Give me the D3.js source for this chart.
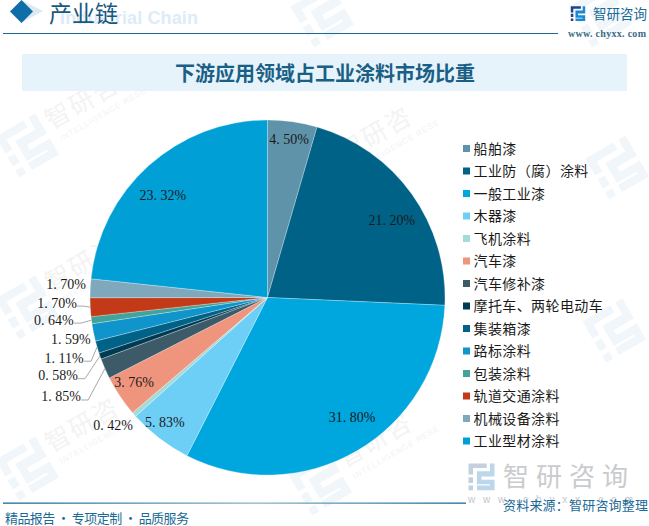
<!DOCTYPE html>
<html><head><meta charset="utf-8">
<script src="https://cdn.jsdelivr.net/npm/d3@7/dist/d3.min.js"></script>
<style>html,body{margin:0;padding:0;background:#fff}svg{display:block;font-family:"Noto Sans CJK SC","Noto Sans",sans-serif}</style></head>
<body><div id="c"></div>
<script>
const categories=["船舶漆","工业防（腐）涂料","一般工业漆","木器漆","飞机涂料","汽车漆","汽车修补漆","摩托车、两轮电动车","集装箱漆","路标涂料","包装涂料","轨道交通涂料","机械设备涂料","工业型材涂料"];
const values=[4.50,21.20,31.80,5.83,0.42,3.76,1.85,0.58,1.11,1.59,0.64,1.70,1.70,23.32];
const colors=["#5f93a9","#006287","#00a6de","#6dcff6","#a3dbd8","#f0957d","#3c5a68","#003b54","#006287","#0f94cc","#42a39a","#c23a17","#7fa8bd","#00a0d6"];
// label placement: radius factor, angle shift (deg) from slice middle, and whether a leader line is drawn
const labelRadius=[.896,.823,.829,.909,1.132,.893,1.291,1.26,1.196,1.133,1.21,1.186,1.138,.825];
const labelShift=[-.3,4,-4.8,2,1.5,1.1,-2.1,-1.2,-.4,-.8,1.3,1.6,.8,-3.6];
const labelLeader=[0,0,0,0,0,0,1,1,1,0,1,1,0,0];
const wmSpots=[[27,145],[27,307],[27,468],[320,177],[320,330],[320,483]];
const wmLogoOnly=[[322,15],[617,167],[614,330],[600,15]];

const W=649,H=526,cx=267.5,cy=297.5,R=177.5;
const svg=d3.select("#c").append("svg").attr("width",W).attr("height",H);
const defs=svg.append("defs");
const g1=defs.append("linearGradient").attr("id","fl");
g1.append("stop").attr("offset",0).attr("stop-color","#1a6a96");
g1.append("stop").attr("offset",.55).attr("stop-color","#8fb4c9");
g1.append("stop").attr("offset",1).attr("stop-color","#1a6a96");

const logoA="M-20,-20H8V-13H-13V-3H-20ZM-20,1H-13V10H-20ZM-20,14H-13V21H-20Z";
const logoB="M-7,-8H13V-20H20V0H0V5H20V21H-7V14H13V12H-7Z";
function logo(g,fillA,fillB,s){
  g.append("path").attr("transform",`scale(${s})`).attr("fill",fillA).attr("d",logoA);
  g.append("path").attr("transform",`scale(${s})`).attr("fill",fillB).attr("d",logoB);
}
wmSpots.forEach(p=>{
  const g=svg.append("g").attr("transform",`translate(${p[0]},${p[1]}) rotate(-30)`);
  logo(g,"#f1f6fa","#f1f6fa",1.15);
  g.append("text").attr("x",29).attr("y",-1).attr("font-size",25).attr("letter-spacing",2).attr("fill","#f3f3f3").text("智研咨");
  g.append("text").attr("x",32).attr("y",14).attr("font-size",8).attr("letter-spacing",1).attr("fill","#f3f3f3").attr("font-family","Liberation Sans").text("INTELLIGENCE RESE");
});
wmLogoOnly.forEach(p=>{
  const g=svg.append("g").attr("transform",`translate(${p[0]},${p[1]}) rotate(-30)`);
  logo(g,"#f1f6fa","#f1f6fa",1.15);
});

// header
svg.append("path").attr("d","M21,0L43,11L21,23Z").attr("fill","#dbe9f2");
svg.append("path").attr("d","M21.5,0L33,11.5L21.5,23L10,11.5Z").attr("fill","#0f6ea8");
svg.append("text").attr("x",60).attr("y",24).attr("font-size",18).attr("font-weight",700).attr("fill","#dcecf8").attr("font-family","Liberation Sans").attr("textLength",138).text("Industrial Chain");
svg.append("text").attr("x",49).attr("y",22).attr("font-size",23).attr("fill","#17597f").text("产业链");
svg.append("line").attr("x1",3).attr("x2",558).attr("y1",33.5).attr("y2",33.5).attr("stroke","#1d6a8e").attr("stroke-width",1.2);
logo(svg.append("g").attr("transform","translate(578,13.5)"),"#23408a","#1a8ad0",.36);
svg.append("text").attr("x",593).attr("y",19).attr("font-size",13.5).attr("fill","#1a6a96").text("智研咨询");
svg.append("text").attr("x",568).attr("y",37).attr("font-size",10).attr("font-weight",700).attr("fill","#3e6a85").attr("font-family","Liberation Serif").attr("textLength",78).text("www. chyxx. com");

// title band
svg.append("rect").attr("x",22).attr("y",54).attr("width",605).attr("height",37).attr("fill","#e6f3fb");
svg.append("text").attr("x",325).attr("y",81).attr("text-anchor","middle").attr("font-size",20).attr("font-weight",700).attr("fill","#1a5f85").text("下游应用领域占工业涂料市场比重");

// pie
const pie=d3.pie().value(d=>d).sort(null)(values);
const arc=d3.arc().innerRadius(0).outerRadius(R);
const gp=svg.append("g").attr("transform",`translate(${cx},${cy})`);
gp.selectAll("path").data(pie).join("path").attr("d",arc)
  .attr("fill",(d,i)=>colors[i]).attr("stroke","#fff").attr("stroke-opacity",.55).attr("stroke-width",.5);

const polar=(a,r)=>[r*Math.sin(a),-r*Math.cos(a)];
const mid=d=>(d.startAngle+d.endAngle)/2;
const fmt=v=>v.toFixed(2).replace("."," .").replace(" .",". ")+"%";
const labelPt=(d,i)=>polar(mid(d)+labelShift[i]*Math.PI/180,labelRadius[i]*R);
const halfW=18;
const line=d3.line();
gp.selectAll("path.leader").data(pie.filter((d,i)=>labelLeader[i])).join("path").attr("class","leader")
  .attr("fill","none").attr("stroke","#a8a8a8").attr("stroke-width",1)
  .attr("d",d=>{const i=d.index,p=labelPt(d,i),s=polar(mid(d),R),x=p[0]+halfW+2,y=p[1]+3;return line([s,[x+7,y],[x,y]]);});
gp.selectAll("text.val").data(pie).join("text").attr("class","val")
  .attr("text-anchor","middle").attr("dominant-baseline","central")
  .attr("font-family","Liberation Serif").attr("font-size",14).attr("fill","#1a1a1a")
  .attr("x",(d,i)=>labelPt(d,i)[0]).attr("y",(d,i)=>labelPt(d,i)[1]).text(d=>fmt(d.value));

// legend
const ly=d3.scalePoint().domain(categories).range([148.5,441]);
const lg=svg.append("g").selectAll("g").data(categories).join("g").attr("transform",d=>`translate(463,${ly(d)})`);
lg.append("rect").attr("y",-3.5).attr("width",7).attr("height",7).attr("fill",(d,i)=>colors[i]);
lg.append("text").attr("x",10.5).attr("y",5).attr("font-size",14).attr("letter-spacing",.4).attr("fill","#1a1a1a").text(d=>d);

// footer
logo(svg.append("g").attr("transform","translate(481.5,476.5)"),"#c3d0de","#bcd6ea",.65);
svg.append("text").attr("x",503).attr("y",486).attr("font-size",26).attr("fill","#c9cbcd").attr("letter-spacing",7).text("智研咨询");
svg.append("text").attr("x",468).attr("y",503).attr("font-size",10).attr("fill","#c4c7ca").attr("font-family","Liberation Sans").attr("textLength",165).text("www.chyxx.com");
svg.append("rect").attr("x",3).attr("y",502.5).attr("width",463).attr("height",1.3).attr("fill","url(#fl)");
svg.append("text").attr("x",503).attr("y",510).attr("font-size",13).attr("fill","#1a6a96").attr("letter-spacing",.2).text("资料来源：智研咨询整理");
svg.append("text").attr("x",5).attr("y",522.5).attr("font-size",13).attr("fill","#1a6a96").attr("textLength",184).text("精品报告 · 专项定制 · 品质服务");
</script></body></html>
